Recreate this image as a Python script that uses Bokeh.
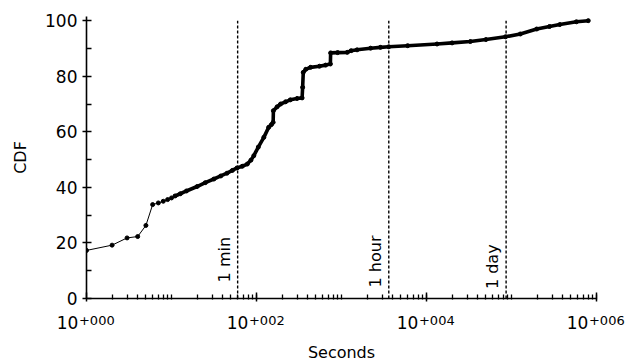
from bokeh.plotting import figure
from bokeh.models import (ColumnDataSource, FixedTicker, LabelSet, Range1d,
                          CustomJSTickFormatter, LogAxis)
from bokeh.core.properties import value
from bokeh.embed import file_html
from bokeh.resources import INLINE

# CDF curve (seconds, percent)
seconds = [1, 2, 3, 4, 5, 6, 7, 8, 9, 10, 11, 12.7, 15, 20, 25, 31.5, 38, 45, 52, 59,
           68, 78, 86, 93, 105, 122, 139, 150, 157, 158, 175, 192, 220, 250, 300, 344,
           349, 355, 380, 432, 550, 650, 740, 745, 900, 1170, 1300, 1525, 2200, 2870,
           3600, 6000, 13300, 20000, 32800, 50000, 85000, 127000, 198000, 280000,
           370000, 580000, 800000]
cdf = [17.3, 19.2, 21.8, 22.3, 26.3, 33.8, 34.4, 35.0, 35.6, 36.2, 36.9, 37.7, 38.7,
       40.3, 41.7, 43.0, 44.1, 45.1, 46.1, 47.0, 47.6, 48.4, 49.8, 51.4, 54.5, 58.0,
       61.6, 62.6, 63.4, 67.6, 69.0, 70.0, 70.8, 71.5, 72.0, 72.2, 76.0, 81.4, 82.5,
       83.2, 83.6, 84.0, 84.4, 88.4, 88.5, 88.6, 89.2, 89.5, 90.1, 90.4, 90.6, 91.0,
       91.6, 92.0, 92.5, 93.2, 94.2, 95.2, 97.0, 97.9, 98.6, 99.6, 100.0]

marker_seconds = [60, 3600, 86400]
marker_labels = ["1 min", "1 hour", "1 day"]
marker_label_y = [5.8, 4.0, 3.4]

x_major = [1, 100, 10000, 1000000]
x_base = ["10", "10", "10", "10"]
x_exp = ["+000", "+002", "+004", "+006"]
y_major = [0, 20, 40, 60, 80, 100]
y_minor = [10, 30, 50, 70, 90]

FONT = "DejaVu Sans"
NB = "\u00a0"

p = figure(width=626, height=364, x_axis_type="log",
           x_range=Range1d(1, 1e6), y_range=Range1d(0, 101.5),
           output_backend="svg", toolbar_location=None,
           min_border_left=86, min_border_right=30,
           min_border_top=16, min_border_bottom=66)
p.outline_line_color = None
p.grid.visible = False
p.background_fill_color = "white"
p.border_fill_color = "white"

x_minor = []
for d in range(0, 6):
    for k in range(2, 11):
        x_minor.append(k * 10 ** d)

FMT_CODE = """
for (let i = 0; i < major_vals.length; i++) {
    if (Math.abs(Math.log10(tick) - Math.log10(major_vals[i])) < 1e-6) return major_texts[i];
}
return '';
"""

# main x axis: line, ticks and the "10" part of each label
xa = p.xaxis[0]
xa.ticker = FixedTicker(ticks=x_major, minor_ticks=x_minor)
xa.formatter = CustomJSTickFormatter(
    args=dict(major_vals=x_major, major_texts=[b + NB * 7 for b in x_base]),
    code=FMT_CODE)
xa.major_label_text_font = FONT
xa.major_label_text_font_size = "17px"
xa.major_label_standoff = 11
xa.major_tick_in = 6
xa.major_tick_out = 3
xa.minor_tick_in = 4
xa.minor_tick_out = 1

# second x axis: the superscript exponents and the axis title
xb = LogAxis(ticker=FixedTicker(ticks=x_major, minor_ticks=[]),
             formatter=CustomJSTickFormatter(
                 args=dict(major_vals=x_major, major_texts=[NB * 5 + e for e in x_exp]),
                 code=FMT_CODE))
xb.axis_line_color = None
xb.major_tick_line_color = None
xb.minor_tick_line_color = None
xb.major_tick_in = 0
xb.major_tick_out = 0
xb.minor_tick_in = 0
xb.minor_tick_out = 0
xb.major_label_text_font = FONT
xb.major_label_text_font_size = "13px"
xb.major_label_text_color = "black"
xb.major_label_standoff = -23
xb.axis_label = "Seconds"
xb.axis_label_text_font = FONT
xb.axis_label_text_font_size = "16px"
xb.axis_label_text_font_style = "normal"
xb.axis_label_text_color = "black"
xb.axis_label_standoff = 12
p.add_layout(xb, "below")

ya = p.yaxis[0]
ya.ticker = FixedTicker(ticks=y_major, minor_ticks=y_minor)
ya.axis_label = "CDF"
ya.axis_label_text_font = FONT
ya.axis_label_text_font_size = "16px"
ya.axis_label_text_font_style = "normal"
ya.axis_label_standoff = 12
ya.major_label_text_font = FONT
ya.major_label_text_font_size = "17px"
ya.major_label_standoff = 5
ya.major_tick_in = 5
ya.major_tick_out = 4
ya.minor_tick_in = 5
ya.minor_tick_out = 0

for ax in (xa, ya):
    ax.axis_line_width = 1.6
    ax.major_tick_line_width = 1.5
    ax.minor_tick_line_width = 1.3
    ax.axis_line_color = "black"
    ax.major_tick_line_color = "black"
    ax.minor_tick_line_color = "black"
    ax.major_label_text_color = "black"
    ax.axis_label_text_color = "black"

# reference lines
ref_src = ColumnDataSource(dict(x=marker_seconds, y0=[0] * 3, y1=[100] * 3,
                                label=marker_labels, ly=marker_label_y))
p.segment(x0="x", y0="y0", x1="x", y1="y1", source=ref_src, line_color="black",
          line_width=1.4, line_dash="3 2")
p.add_layout(LabelSet(x="x", y="ly", text="label", source=ref_src, angle=1.5708,
                      text_align="left", text_baseline="alphabetic", x_offset=-8,
                      text_font=value(FONT), text_font_size=value("16px"),
                      text_color="black"))

# curve
src = ColumnDataSource(dict(x=seconds, y=cdf))
dense = [i for i, s in enumerate(seconds) if s >= 11]
dsrc = ColumnDataSource(dict(x=[seconds[i] for i in dense], y=[cdf[i] for i in dense]))
p.line("x", "y", source=src, line_color="black", line_width=1)
p.line("x", "y", source=dsrc, line_color="black", line_width=3.6, line_join="round",
       line_cap="round")
p.scatter("x", "y", source=src, size=4, color="black")

open("out.html", "w").write(file_html(p, INLINE))
